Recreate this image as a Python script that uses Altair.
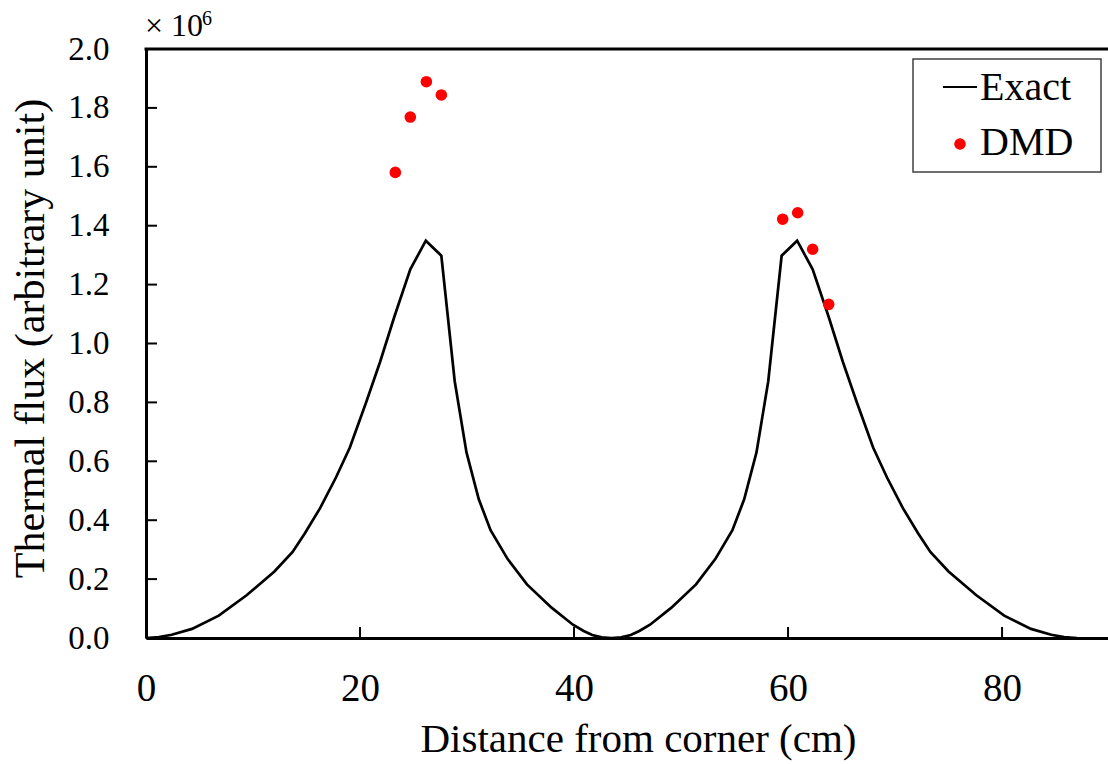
import altair as alt
import pandas as pd

# ---- data ----
exact_x = [0.0, 1.2, 2.4, 4.3, 6.8, 9.4, 12.0, 13.7, 14.85, 16.27, 17.75, 19.05, 20.6, 21.88, 23.2, 24.7,
           26.15, 27.6, 28.85, 29.95, 31.1, 32.2, 33.8, 35.6, 37.9, 39.9, 40.9, 41.7, 42.6, 43.5, 44.4,
           45.3, 46.1, 47.1, 49.1, 51.4, 53.2, 54.8, 55.9, 57.05, 58.15, 59.4, 60.85, 62.3, 63.8, 65.12,
           66.4, 67.95, 69.25, 70.73, 72.15, 73.3, 75.0, 77.6, 80.2, 82.7, 84.6, 85.8, 87.0]
exact_y = [0.0, 0.003, 0.011, 0.031, 0.076, 0.145, 0.226, 0.292, 0.356, 0.441, 0.545, 0.647, 0.803,
           0.938, 1.090, 1.252, 1.349, 1.298, 0.872, 0.630, 0.471, 0.366, 0.268, 0.182, 0.103, 0.045,
           0.024, 0.010, 0.002, 0.0, 0.002, 0.010, 0.024, 0.045, 0.103, 0.182, 0.268, 0.366, 0.471,
           0.630, 0.872, 1.298, 1.349, 1.252, 1.090, 0.938, 0.803, 0.647, 0.545, 0.441, 0.356, 0.292,
           0.226, 0.145, 0.076, 0.031, 0.011, 0.003, 0.0]

dmd_x = [23.3, 24.7, 26.2, 27.6, 59.5, 60.9, 62.3, 63.8]
dmd_y = [1.581, 1.769, 1.889, 1.844, 1.422, 1.444, 1.320, 1.133]

x_tick_values = [0, 20, 40, 60, 80]
y_tick_values = [0.0, 0.2, 0.4, 0.6, 0.8, 1.0, 1.2, 1.4, 1.6, 1.8, 2.0]
x_inner_ticks = [20, 40, 60, 80]
y_inner_ticks = [0.2, 0.4, 0.6, 0.8, 1.0, 1.2, 1.4, 1.6, 1.8]

series_names = ["Exact", "DMD"]
x_title = "Distance from corner (cm)"
y_title = "Thermal flux (arbitrary unit)"
scale_text = "× 10"
scale_exp = "6"

FONT = "Liberation Serif"
W, H = 962, 589

exact_df = pd.DataFrame({"x": exact_x, "y": exact_y})
dmd_df = pd.DataFrame({"x": dmd_x, "y": dmd_y})
xt_df = pd.DataFrame({"x": x_inner_ticks})
yt_df = pd.DataFrame({"y": y_inner_ticks})
one = pd.DataFrame({"a": [0]})

x_enc = alt.X(
    "x:Q",
    scale=alt.Scale(domain=[0, 89.9], nice=False, zero=False),
    axis=alt.Axis(
        values=x_tick_values, title=x_title, grid=False, ticks=False, tickSize=0,
        domainColor="black", domainWidth=3, labelFont=FONT, labelFontSize=39,
        labelColor="black", labelPadding=62, labelBaseline="alphabetic",
        labelFlush=False, labelOverlap=False,
        titleFont=FONT, titleFontSize=41, titleFontWeight="normal", titleColor="black",
        titleX=492, titleY=113, titleBaseline="alphabetic", titleAlign="center",
    ),
)
y_enc = alt.Y(
    "y:Q",
    scale=alt.Scale(domain=[0, 2.0], nice=False, zero=False),
    axis=alt.Axis(
        values=y_tick_values, format=".1f", title=y_title, grid=False, ticks=False, tickSize=0,
        domainColor="black", domainWidth=3, labelFont=FONT, labelFontSize=33,
        labelColor="black", labelPadding=37, labelFlush=False, labelOverlap=False,
        titleFont=FONT, titleFontSize=42, titleFontWeight="normal", titleColor="black",
        titleAngle=270, titleX=-103, titleY=289, titleBaseline="alphabetic", titleAlign="center",
    ),
)

line = alt.Chart(exact_df).mark_line(color="black", strokeWidth=2.7).encode(x=x_enc, y=y_enc)
pts = alt.Chart(dmd_df).mark_circle(color="red", size=135, opacity=1).encode(x=x_enc, y=y_enc)

xticks = alt.Chart(xt_df).mark_rule(color="black", strokeWidth=2).encode(
    x=x_enc, y=alt.value(H - 11), y2=alt.value(H))
yticks = alt.Chart(yt_df).mark_rule(color="black", strokeWidth=2).encode(
    y=y_enc, x=alt.value(0), x2=alt.value(11))
top_border = alt.Chart(one).mark_rule(color="black", strokeWidth=3).encode(
    x=alt.value(-1.5), x2=alt.value(W + 2), y=alt.value(0))

sc1 = alt.Chart(one).mark_text(text=scale_text, align="left", baseline="alphabetic", font=FONT,
                               fontSize=32, color="black").encode(x=alt.value(-1), y=alt.value(-13))
sc2 = alt.Chart(one).mark_text(text=scale_exp, align="left", baseline="alphabetic", font=FONT,
                               fontSize=20, color="black").encode(x=alt.value(56), y=alt.value(-24))

leg_box = alt.Chart(one).mark_rect(fill="white", stroke="#404040", strokeWidth=1.5).encode(
    x=alt.value(767), x2=alt.value(955), y=alt.value(10), y2=alt.value(123))
leg_line = alt.Chart(one).mark_rule(color="black", strokeWidth=2).encode(
    x=alt.value(797), x2=alt.value(831), y=alt.value(38))
leg_dot = alt.Chart(one).mark_circle(color="red", size=135, opacity=1).encode(
    x=alt.value(814), y=alt.value(95))
leg_t1 = alt.Chart(one).mark_text(text=series_names[0], align="left", baseline="alphabetic", font=FONT,
                                  fontSize=40, color="black").encode(x=alt.value(834), y=alt.value(51))
leg_t2 = alt.Chart(one).mark_text(text=series_names[1], align="left", baseline="alphabetic", font=FONT,
                                  fontSize=40, color="black").encode(x=alt.value(834), y=alt.value(106))

chart = alt.layer(
    line, pts, xticks, yticks, top_border, sc1, sc2, leg_box, leg_line, leg_dot, leg_t1, leg_t2
).properties(
    width=W, height=H,
    padding={"left": 146, "top": 49, "right": 0, "bottom": 126},
    autosize=alt.AutoSizeParams(type="none"),
    background="white",
).configure_view(stroke=None).configure_axis(
    labelFont=FONT, titleFont=FONT
).configure_text(font=FONT)

chart.save("out.html", embed_options={"renderer": "svg", "actions": False})
